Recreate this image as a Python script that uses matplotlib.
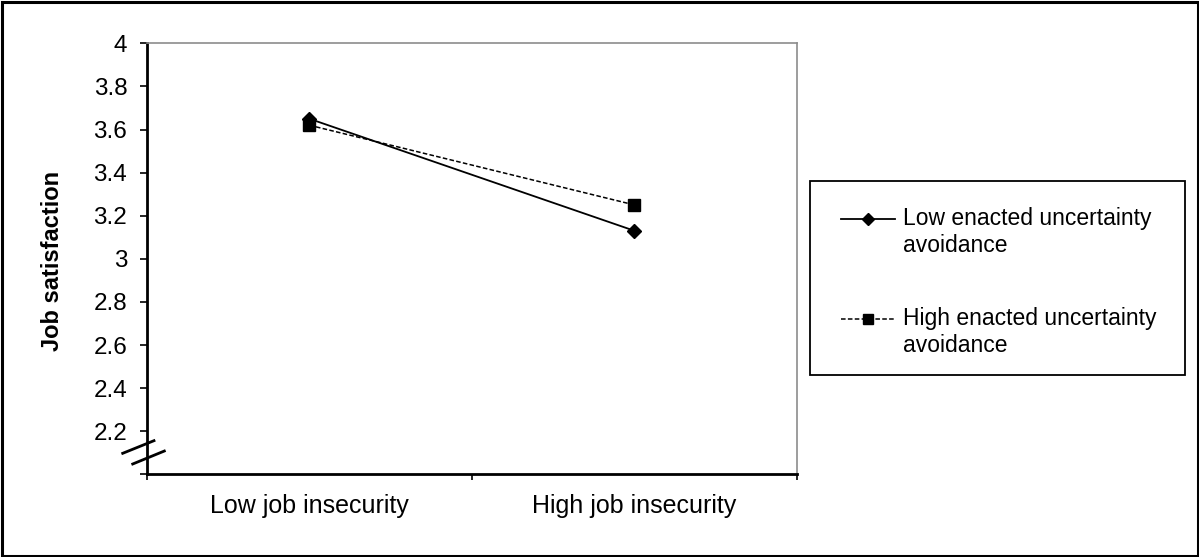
import matplotlib
matplotlib.use("Agg")
import matplotlib.pyplot as plt
from matplotlib.patches import Rectangle
from matplotlib.lines import Line2D
from matplotlib.legend_handler import HandlerLine2D
import numpy as np

plt.rcParams['font.family'] = ['Liberation Sans', 'DejaVu Sans']

# data
categories = ['Low job insecurity', 'High job insecurity']
low_ua = [3.65, 3.13]
high_ua = [3.62, 3.25]
series_names = ['Low enacted uncertainty\navoidance', 'High enacted uncertainty\navoidance']
yticks = [2.0, 2.2, 2.4, 2.6, 2.8, 3.0, 3.2, 3.4, 3.6, 3.8, 4.0]


# legend handle lined up with the first line of a two-line label
class FirstLineHandler(HandlerLine2D):
    def create_artists(self, legend, orig_handle, xdescent, ydescent, width, height,
                       fontsize, trans):
        return super().create_artists(legend, orig_handle, xdescent, ydescent - 19.4,
                                      width, height, fontsize, trans)


W, H = 1199, 557
fig = plt.figure(figsize=(W / 100, H / 100), dpi=100)
ax = fig.add_axes([146.7 / W, 1 - 474.3 / H, 650.3 / W, 431 / H])

x = np.arange(len(categories)) + 0.5
l1, = ax.plot(x, low_ua, color='black', lw=1.3, marker='D', ms=7.5, label=series_names[0])
l2, = ax.plot(x, high_ua, color='black', lw=1.1, ls=(0, (3, 1.5)), marker='s', ms=8,
              label=series_names[1])

ax.set_xlim(0, 2)
ax.set_ylim(2.0, 4.0)

# y axis
ax.set_yticks(yticks)
ax.set_yticklabels(['' if v == 2.0 else '%g' % v for v in yticks])
ax.tick_params(axis='y', direction='out', length=5, width=1.2, pad=9, labelsize=17.5)

# x axis: ticks at borders, labels centred
ax.set_xticks([0, 1, 2])
ax.set_xticklabels([])
ax.set_xticks(x, minor=True)
ax.set_xticklabels(categories, minor=True)
ax.tick_params(axis='x', which='major', direction='out', length=4, width=1.2)
ax.tick_params(axis='x', which='minor', length=0, pad=14, labelsize=18)

for s in ['left', 'bottom']:
    ax.spines[s].set_linewidth(2)
    ax.spines[s].set_color('black')
for s in ['top', 'right']:
    ax.spines[s].set_linewidth(1.2)
    ax.spines[s].set_color('#8c8c8c')

ax.set_ylabel('Job satisfaction', fontsize=17, fontweight='bold')
ax.yaxis.set_label_coords(-0.127, 0.495)

# axis break marks
for (x0, y0, x1, y1) in [(-0.0369, 0.0487, 0.0112, 0.078), (-0.0215, 0.0239, 0.0271, 0.054)]:
    ax.add_line(Line2D([x0, x1], [y0, y1], transform=ax.transAxes, color='black',
                       lw=2, clip_on=False))

# legend box
fig.add_artist(Rectangle((810 / W, 1 - 375 / H), 375 / W, (375 - 180.7) / H,
                         transform=fig.transFigure, fill=False, ec='black', lw=1.3))
leg = fig.legend(loc='upper left', bbox_to_anchor=(841 / W, 1 - 207 / H),
                 frameon=False, fontsize=16.5, handlelength=2.35, handletextpad=0.35,
                 labelspacing=2.2, borderaxespad=0, borderpad=0,
                 handler_map={l1: FirstLineHandler(), l2: FirstLineHandler()})
for h in leg.legend_handles:
    h.set_markersize(6.5)

# outer border
fig.add_artist(Rectangle((1.5 / W, 1.5 / H), (W - 3) / W, (H - 3) / H,
                         transform=fig.transFigure, fill=False, ec='black', lw=2.2))

fig.savefig('out.png', dpi=100)
